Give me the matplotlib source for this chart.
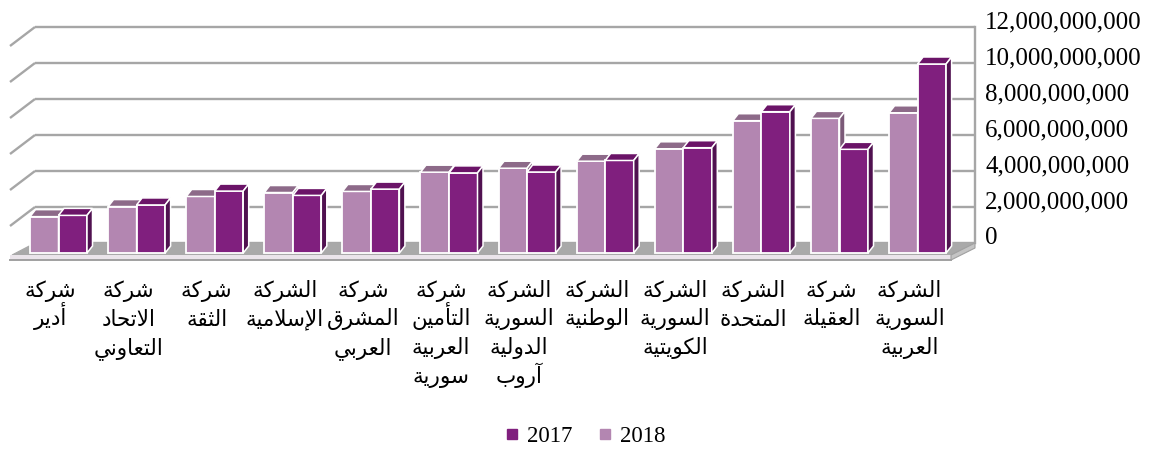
import matplotlib
matplotlib.use("Agg")
import matplotlib.pyplot as plt
from matplotlib.patches import Polygon
from matplotlib.lines import Line2D

# ---------------- data ----------------
categories = [
    "شركة أدير",
    "شركة الاتحاد التعاوني",
    "شركة الثقة",
    "الشركة الإسلامية",
    "شركة المشرق العربي",
    "شركة التأمين العربية سورية",
    "الشركة السورية الدولية آروب",
    "الشركة الوطنية",
    "الشركة السورية الكويتية",
    "الشركة المتحدة",
    "شركة العقيلة",
    "الشركة السورية العربية",
]
values_2018 = [2.02e9, 2.58e9, 3.14e9, 3.36e9, 3.42e9, 4.49e9,
               4.71e9, 5.10e9, 5.79e9, 7.35e9, 7.48e9, 7.79e9]
values_2017 = [2.09e9, 2.67e9, 3.44e9, 3.20e9, 3.55e9, 4.45e9,
               4.50e9, 5.14e9, 5.85e9, 7.85e9, 5.76e9, 10.50e9]
series_names = ["2017", "2018"]
y_ticks = [0, 2e9, 4e9, 6e9, 8e9, 10e9, 12e9]

# ---------------- minimal Arabic shaping ----------------
FORMS = {
    'ا': (0xFE8D, 0xFE8E), 'أ': (0xFE83, 0xFE84), 'إ': (0xFE87, 0xFE88),
    'آ': (0xFE81, 0xFE82), 'ب': (0xFE8F, 0xFE90, 0xFE91, 0xFE92),
    'ة': (0xFE93, 0xFE94), 'ت': (0xFE95, 0xFE96, 0xFE97, 0xFE98),
    'ث': (0xFE99, 0xFE9A, 0xFE9B, 0xFE9C), 'ح': (0xFEA1, 0xFEA2, 0xFEA3, 0xFEA4),
    'د': (0xFEA9, 0xFEAA), 'ر': (0xFEAD, 0xFEAE),
    'س': (0xFEB1, 0xFEB2, 0xFEB3, 0xFEB4), 'ش': (0xFEB5, 0xFEB6, 0xFEB7, 0xFEB8),
    'ط': (0xFEC1, 0xFEC2, 0xFEC3, 0xFEC4), 'ع': (0xFEC9, 0xFECA, 0xFECB, 0xFECC),
    'ق': (0xFED5, 0xFED6, 0xFED7, 0xFED8), 'ك': (0xFED9, 0xFEDA, 0xFEDB, 0xFEDC),
    'ل': (0xFEDD, 0xFEDE, 0xFEDF, 0xFEE0), 'م': (0xFEE1, 0xFEE2, 0xFEE3, 0xFEE4),
    'ن': (0xFEE5, 0xFEE6, 0xFEE7, 0xFEE8), 'و': (0xFEED, 0xFEEE),
    'ي': (0xFEF1, 0xFEF2, 0xFEF3, 0xFEF4),
}
LAM_ALEF = {'آ': (0xFEF5, 0xFEF6), 'أ': (0xFEF7, 0xFEF8),
            'إ': (0xFEF9, 0xFEFA), 'ا': (0xFEFB, 0xFEFC)}


def dual(c):
    return c in FORMS and len(FORMS[c]) == 4


def shape(text):
    out = []
    n = len(text)
    i = 0
    while i < n:
        c = text[i]
        if c not in FORMS:
            out.append(c)
            i += 1
            continue
        prev_j = i > 0 and dual(text[i - 1])
        if c == 'ل' and i + 1 < n and text[i + 1] in LAM_ALEF:
            lig = LAM_ALEF[text[i + 1]]
            out.append(chr(lig[1] if prev_j else lig[0]))
            i += 2
            continue
        next_j = dual(c) and i + 1 < n and text[i + 1] in FORMS
        f = FORMS[c]
        if prev_j and next_j:
            g = f[3]
        elif prev_j:
            g = f[1]
        elif next_j:
            g = f[2]
        else:
            g = f[0]
        out.append(chr(g))
        i += 1
    return ''.join(reversed(out))


# ---------------- layout (pixel based) ----------------
W, H = 1157, 449
PXX = 78.1      # pixels per category
C0 = 58.5       # pixel x of first category center
PXY = 18.0      # pixels per 1e9
Y0 = 253.0      # pixel (from top) of value 0 at bar front
SCALE = 1e9

fig = plt.figure(figsize=(W / 100, H / 100), dpi=100)
ax = fig.add_axes([0, 0, 1, 1])
ax.set_xlim(-C0 / PXX, (W - C0) / PXX)
ax.set_ylim((Y0 - H) / PXY, Y0 / PXY)
ax.axis('off')


def px(x):      # pixel x -> data x
    return (x - C0) / PXX


def py(y):      # pixel y from top -> data y
    return (Y0 - y) / PXY


def ddx(p):
    return p / PXX


def ddy(p):
    return p / PXY


GRID = '#A6A6A6'
wall_left, wall_right = px(35), px(975)
wall_dy = ddy(10)           # wall 0-line sits 10 px above bar front 0

# floor
floor_top = Polygon([(px(12), py(255)), (px(951), py(255)),
                     (px(975), py(243)), (px(35), py(243))],
                    closed=True, facecolor='#A9A9A9', edgecolor='#A9A9A9',
                    lw=0.8, zorder=1)
ax.add_patch(floor_top)
floor_front = Polygon([(px(10), py(255)), (px(951), py(255)),
                       (px(951), py(260)), (px(10), py(260))],
                      closed=True, facecolor='#EAE4EA', edgecolor='none', zorder=1)
ax.add_patch(floor_front)
ax.plot([px(10), px(951)], [py(260), py(260)], color='#A0A0A0', lw=1.4, zorder=1)
floor_side = Polygon([(px(951), py(255)), (px(975), py(243)),
                      (px(975), py(248)), (px(951), py(260))],
                     closed=True, facecolor='#C4C4C4', edgecolor='#A0A0A0', lw=0.8, zorder=1)
ax.add_patch(floor_side)

# back-wall gridlines, left wall diagonals, right edge
for t in y_ticks:
    yv = t / SCALE + wall_dy
    ax.plot([wall_left, wall_right], [yv, yv], color=GRID, lw=1.7,
            solid_capstyle='butt', zorder=0.5)
    if t > 0:
        ax.plot([px(10), wall_left], [yv - ddy(19), yv], color=GRID, lw=1.7,
                solid_capstyle='butt', zorder=0.5)
    ax.text(px(985), yv + ddy(5), f"{int(t):,}", ha='left', va='center',
            fontsize=18, family=['Liberation Serif', 'DejaVu Serif'],
            color='#000000')
ax.plot([wall_right, wall_right], [wall_dy, y_ticks[-1] / SCALE + wall_dy],
        color=GRID, lw=1.7, zorder=0.5)

# bars
bw = ddx(28.5)
bdx, bdy = ddx(5.5), ddy(7)
colors = {
    '2018': ('#B386B1', '#8D6A89', '#7B5A78'),
    '2017': ('#801F7E', '#6B1468', '#501150'),
}
xs = list(range(len(categories)))
for i in xs:
    for s, vals, x0 in (('2018', values_2018, i - bw), ('2017', values_2017, i)):
        h = vals[i] / SCALE
        front, top, side = colors[s]
        ax.bar(x0, h, width=bw, align='edge', color=front, edgecolor='white',
               linewidth=1.3, zorder=3)
        ax.add_patch(Polygon([(x0, h), (x0 + bw, h), (x0 + bw + bdx, h + bdy),
                              (x0 + bdx, h + bdy)], closed=True, facecolor=top,
                             edgecolor='white', lw=1.1, zorder=3))
        ax.add_patch(Polygon([(x0 + bw, 0), (x0 + bw, h), (x0 + bw + bdx, h + bdy),
                              (x0 + bw + bdx, bdy)], closed=True, facecolor=side,
                             edgecolor='white', lw=1.1, zorder=3))

# category labels (one text per line, fixed line pitch)
for i, name in enumerate(categories):
    for k, word in enumerate(name.split(" ")):
        ax.text(i - ddx(8), py(297 + k * 28.5), shape(word), ha='center',
                va='baseline', fontsize=15.5, family=['DejaVu Sans'],
                color='#000000')

# legend
handles = [Line2D([], [], marker='s', linestyle='none', markersize=7,
                  color=colors['2017'][0]),
           Line2D([], [], marker='s', linestyle='none', markersize=7,
                  color=colors['2018'][0])]
fig.legend(handles, series_names, loc='center', bbox_to_anchor=(0.505, 0.027),
           ncol=2, frameon=False, handletextpad=0.25, columnspacing=1.0,
           handlelength=0.8, prop={'family': 'Liberation Serif', 'size': 16.5})

fig.savefig('out.png', dpi=100)
